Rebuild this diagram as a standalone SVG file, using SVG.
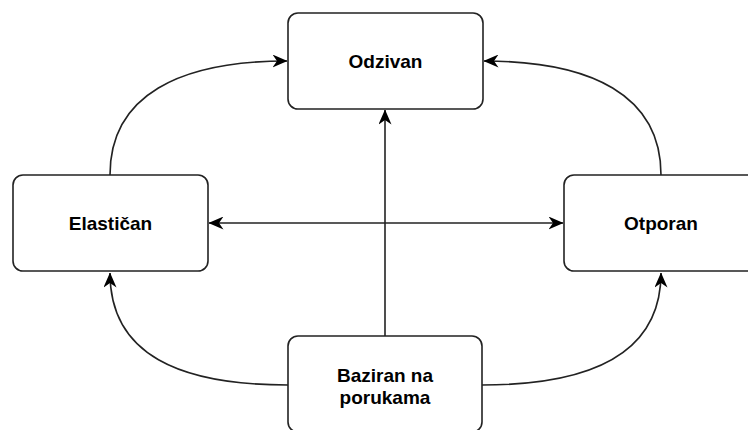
<svg xmlns="http://www.w3.org/2000/svg" width="748" height="430" viewBox="0 0 748 430">
<style>
.box{fill:#fff;stroke:#222;stroke-width:1.6}
.lbl{font-family:"Liberation Sans",Arial,sans-serif;font-weight:bold;font-size:19px;fill:#000;text-anchor:middle}
.edge{fill:none;stroke:#222;stroke-width:1.6}
</style>
<defs>
<marker id="arr" markerUnits="userSpaceOnUse" viewBox="0 0 15 13" markerWidth="15" markerHeight="13" refX="14.5" refY="6.5" orient="auto-start-reverse">
<path d="M0,0 L15,6.5 L0,13 L4.5,6.5 z" fill="#000"/>
</marker>
</defs>
<g id="connectors">
<path class="edge" d="M110,175 C110,95 180,61 287,61" marker-end="url(#arr)"/>
<path class="edge" d="M661,175 C661,95 591,61 484,61" marker-end="url(#arr)"/>
<path class="edge" d="M288,385 C180,385 110,355 110,273" marker-end="url(#arr)"/>
<path class="edge" d="M482,385 C590,385 661,355 661,273" marker-end="url(#arr)"/>
<path class="edge" d="M385,336 L385,110" marker-end="url(#arr)"/>
<path class="edge" d="M209,223 L563,223" marker-start="url(#arr)" marker-end="url(#arr)"/>
</g>
<g id="odzivan">
<rect class="box" x="288" y="13" width="195" height="96" rx="10"/>
<text class="lbl" x="385.5" y="68">Odzivan</text>
</g>
<g id="elastican">
<rect class="box" x="13" y="175" width="195" height="96" rx="10"/>
<text class="lbl" x="110.5" y="230">Elastičan</text>
</g>
<g id="otporan">
<rect class="box" x="564" y="175" width="195" height="96" rx="10"/>
<text class="lbl" x="661" y="230">Otporan</text>
</g>
<g id="baziran">
<rect class="box" x="288" y="336" width="194" height="96" rx="10"/>
<text class="lbl" x="385" y="381.5">Baziran na</text>
<text class="lbl" x="385" y="404">porukama</text>
</g>
</svg>
